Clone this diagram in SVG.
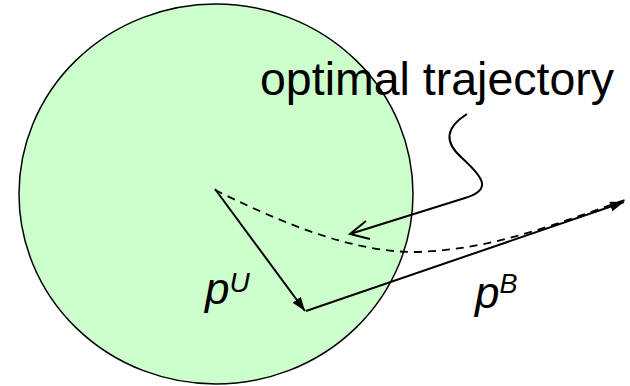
<svg xmlns="http://www.w3.org/2000/svg" width="630" height="386" viewBox="0 0 630 386">
<style>
.ln{fill:none;stroke:#000;stroke-width:1.8}
.lbl{font-family:"Liberation Sans",Arial,sans-serif;fill:#000}
</style>
<defs>
<marker id="ah" viewBox="0 0 14 10" refX="14" refY="5" markerWidth="14" markerHeight="10" markerUnits="userSpaceOnUse" orient="auto">
<path d="M0,0 L14,5 L0,10 Z" fill="#000"/>
</marker>
</defs>
<rect width="630" height="386" fill="#fff"/>
<g id="region">
<ellipse cx="216" cy="194" rx="197" ry="190" fill="#ccffcc" stroke="#000" stroke-width="1.5"/>
</g>
<g id="connectors">
<path class="ln" d="M215,190 C280,222 350,252 415,252 C495,250 560,222 625,200" stroke-dasharray="8,6"/>
<line class="ln" x1="215" y1="189" x2="305" y2="311" marker-end="url(#ah)" style="stroke-width:2"/>
<line class="ln" x1="306" y1="311" x2="624" y2="202" marker-end="url(#ah)" style="stroke-width:2"/>
<path class="ln" d="M467,114 C445,128 444,142 462,158 C484,178 492,190 465,198 L350,234" style="stroke-width:2"/>
<path class="ln" d="M366,221 L350,234 L370,239" style="stroke-width:2"/>
</g>
<g id="label-title">
<text class="lbl" x="260" y="95" font-size="46.5">optimal trajectory</text>
</g>
<g id="label-pU">
<text class="lbl" x="205" y="304" font-size="44" font-style="italic">p<tspan font-size="28" dy="-12">U</tspan></text>
</g>
<g id="label-pB">
<text class="lbl" x="475" y="308" font-size="44" font-style="italic">p<tspan font-size="27" dy="-15">B</tspan></text>
</g>
</svg>
